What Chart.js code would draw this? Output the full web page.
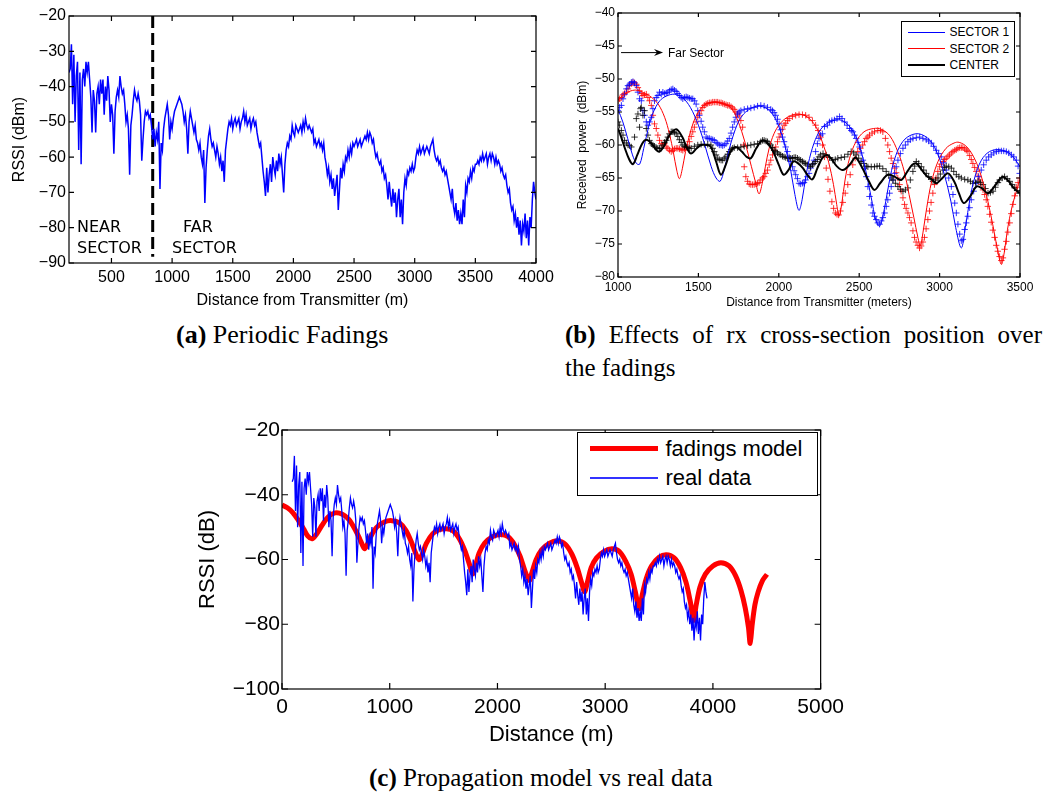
<!DOCTYPE html>
<html>
<head>
<meta charset="utf-8">
<script src="https://cdn.jsdelivr.net/npm/chart.js@4.4.1/dist/chart.umd.min.js"></script>
<style>
  body { margin: 0; background: #fff; }
  #page { position: relative; width: 1046px; height: 796px; overflow: hidden; font-family: "Liberation Sans", Arial, sans-serif; color: #000; }
  canvas { position: absolute; }
  .txt { position: absolute; white-space: nowrap; line-height: 1; }
  .cap { position: absolute; white-space: nowrap; line-height: 1; font-family: "Liberation Serif", "Times New Roman", serif; font-size: 25px; }
  .legend { position: absolute; border: 1.5px solid #000; background: #fff; box-sizing: border-box; }
  .lline { position: absolute; }
</style>
</head>
<body>
<div id="page">
  <canvas id="chartA" width="560" height="320" style="left:0;top:0"></canvas>
  <canvas id="chartB" width="486" height="320" style="left:560px;top:0"></canvas>
  <canvas id="chartC" width="660" height="350" style="left:190px;top:410px"></canvas>

  <div class="txt" style="left:77px;top:217px;font:16px 'DejaVu Sans'">NEAR</div>
  <div class="txt" style="left:77px;top:238px;font:16px 'DejaVu Sans'">SECTOR</div>
  <div class="txt" style="left:183px;top:217px;font:16px 'DejaVu Sans'">FAR</div>
  <div class="txt" style="left:172px;top:238px;font:16px 'DejaVu Sans'">SECTOR</div>
  <div class="txt" style="left:668px;top:47px;font-size:12px">Far Sector</div>

  <div id="legendB"></div>
  <div id="legendC"></div>

  <div class="cap" style="left:176px;top:322px;font-size:26px"><b>(a)</b> Periodic Fadings</div>
  <div class="cap" style="left:565px;top:322px;width:477px;text-align:justify;text-align-last:justify"><b>(b)</b> Effects of rx cross-section position over</div>
  <div class="cap" style="left:565px;top:355px">the fadings</div>
  <div class="cap" style="left:369px;top:765px"><b>(c)</b> Propagation model vs real data</div>
</div>

<script>
// ---- (a) / (c) measured RSSI, one value every 10 m ----
const rssiStep = 10;
const rssiStartA = 150;   // distance of first sample in (a)
const rssiStartC = 95;    // same trace as plotted in (c)
const rssi = [
  -36, -35, -28, -45, -31, -50, -37, -33, -58, -36,
  -62, -38, -35, -40, -33, -36, -33, -38, -43, -53,
  -41, -44, -53, -42, -40, -45, -38, -42, -38, -48,
  -40, -44, -37, -41, -50, -45, -48, -59, -47, -43,
  -41, -43, -37, -40, -42, -41, -45, -50, -48, -52,
  -65, -51, -48, -44, -41, -43, -44, -42, -44, -48,
  -61, -55, -50, -47, -48, -47, -49, -48, -51, -55,
  -52, -57, -53, -55, -50, -69, -56, -58, -52, -49,
  -47, -45, -48, -55, -50, -52, -49, -47, -46, -45,
  -44, -43, -44, -45, -47, -50, -48, -52, -59, -50,
  -47, -49, -51, -53, -51, -55, -56, -58, -56, -60,
  -62, -58, -73, -63, -58, -54, -52, -55, -57, -56,
  -58, -60, -57, -59, -62, -60, -64, -61, -67, -58,
  -55, -52, -50, -51, -49, -52, -50, -49, -51, -50,
  -49, -52, -50, -49, -47, -50, -48, -51, -50, -49,
  -52, -50, -49, -51, -50, -53, -55, -57, -56, -60,
  -64, -67, -71, -63, -70, -65, -62, -67, -60, -63,
  -65, -61, -64, -59, -62, -60, -65, -70, -62, -58,
  -56, -57, -54, -55, -51, -53, -54, -51, -52, -53,
  -52, -51, -53, -50, -52, -49, -51, -52, -51, -52,
  -53, -52, -56, -55, -57, -56, -55, -57, -56, -58,
  -56, -60, -62, -65, -63, -67, -65, -69, -66, -71,
  -68, -65, -75, -69, -63, -66, -62, -64, -60, -61,
  -58, -60, -57, -59, -56, -57, -56, -55, -57, -56,
  -55, -57, -56, -55, -54, -55, -53, -55, -53, -54,
  -56, -55, -58, -60, -59, -61, -62, -61, -64, -63,
  -66, -65, -68, -72, -67, -71, -74, -69, -73, -70,
  -77, -72, -69, -77, -72, -79, -70, -66, -68, -64,
  -65, -63, -64, -62, -64, -63, -60, -58, -59, -57,
  -59, -58, -57, -59, -58, -57, -58, -59, -57, -56,
  -55, -58, -60, -61, -60, -62, -61, -63, -64, -63,
  -65, -64, -66, -68, -70, -72, -69, -74, -76, -73,
  -78, -75, -79, -76, -79, -72, -77, -68, -70, -66,
  -67, -64, -66, -63, -64, -62, -62, -61, -62, -60,
  -61, -59, -61, -60, -59, -62, -60, -59, -61, -59,
  -60, -62, -60, -62, -61, -62, -64, -63, -65, -66,
  -65, -68, -70, -69, -73, -75, -74, -78, -76, -80,
  -77, -82, -78, -85, -79, -81, -76, -83, -78, -85,
  -77, -80, -72, -67, -70, -72
];
const sectorBoundary = 840;
const boundaryTop = -20, boundaryBottom = -88.2;

const xTicksA = [500, 1000, 1500, 2000, 2500, 3000, 3500, 4000];
const yTicksA = [-90, -80, -70, -60, -50, -40, -30, -20];

// ---- (b) sector models (lines) and measurements (+) : [distance, dBm] ----
const sector1Model = [
  [1000,-54.6],[1030,-56.5],[1060,-59],[1090,-61.5],[1115,-62.8],[1135,-62.9],[1160,-60.5],[1190,-57.3],[1220,-55],[1260,-53.3],
  [1300,-52.6],[1350,-52.3],[1400,-52.8],[1450,-54.3],[1500,-57],[1540,-60],[1580,-63.3],[1610,-65],[1635,-65.5],[1660,-63.8],
  [1690,-60.8],[1720,-58.3],[1760,-56],[1810,-54.7],[1880,-54.1],[1950,-55],[2000,-57.2],[2040,-60.3],[2075,-64],[2100,-67.5],
  [2125,-69.9],[2145,-68.3],[2170,-64.5],[2200,-61.2],[2240,-58.5],[2290,-56.9],[2380,-56.2],[2450,-57.5],[2500,-60],[2540,-63.8],
  [2575,-68],[2605,-71.5],[2627,-72.3],[2650,-70.5],[2680,-66.5],[2710,-63],[2750,-60.3],[2800,-58.8],[2870,-58.3],[2940,-59.3],
  [2990,-61.5],[3030,-64.5],[3070,-68.5],[3100,-72.5],[3135,-75.6],[3160,-72.5],[3190,-68],[3220,-64.8],[3260,-62.3],[3310,-61],
  [3370,-60.7],[3430,-61.2],[3470,-62.2],[3500,-63.3]
];
const sector2Model = [
  [1000,-53.2],[1040,-52.3],[1080,-51.8],[1120,-51.7],[1170,-52.2],[1210,-52.8],[1250,-53.8],[1290,-55.8],[1320,-58.3],[1345,-61.2],
  [1365,-63.8],[1382,-65.1],[1400,-63.6],[1420,-61],[1445,-58.5],[1470,-56.5],[1500,-55],[1540,-53.9],[1600,-53.5],[1660,-53.8],
  [1705,-54.4],[1740,-56],[1770,-58],[1800,-60.5],[1830,-63.3],[1855,-65.6],[1877,-67.4],[1897,-65.8],[1917,-63.2],[1940,-60.5],
  [1970,-58.3],[2010,-56.7],[2060,-55.7],[2120,-55.3],[2180,-55.8],[2230,-57.2],[2270,-59.5],[2310,-62.6],[2340,-66],[2360,-69],
  [2375,-70.8],[2392,-68.8],[2412,-65.3],[2440,-62],[2480,-59.5],[2530,-58],[2590,-57.5],[2636,-57.6],[2690,-58.6],[2740,-61],
  [2780,-64],[2810,-67.5],[2840,-71],[2865,-74],[2880,-75.2],[2897,-73.2],[2920,-69.5],[2950,-65.6],[2990,-62.5],[3040,-60.5],
  [3090,-59.7],[3122,-59.6],[3170,-60.3],[3220,-62.2],[3260,-64.8],[3300,-68.5],[3330,-72],[3360,-75.8],[3384,-78.1],[3402,-76.3],
  [3422,-72.8],[3450,-69.4],[3480,-66.8],[3500,-65.2]
];
const centerModel = [
  [1000,-57.5],[1020,-58.8],[1040,-60.3],[1070,-62.2],[1093,-62.9],[1120,-61.5],[1150,-59.8],[1176,-59.2],[1210,-59.8],[1240,-60.8],
  [1258,-61],[1290,-60],[1320,-58.5],[1362,-57.6],[1400,-58.8],[1430,-60.5],[1454,-61.3],[1490,-60.5],[1517,-60],[1550,-60],
  [1578,-60.3],[1610,-62.5],[1640,-64.5],[1670,-63],[1700,-61],[1733,-60.3],[1770,-61],[1800,-61.8],[1826,-62],[1860,-60.5],
  [1899,-59.3],[1940,-60],[1971,-61.3],[2000,-63],[2030,-64.5],[2060,-63.8],[2090,-62.5],[2116,-62.7],[2150,-63.5],[2180,-64.6],
  [2209,-65.2],[2240,-63.5],[2270,-62],[2300,-61.5],[2330,-62.2],[2360,-63.2],[2398,-63.8],[2440,-63],[2470,-62],[2481,-61.9],
  [2520,-63.5],[2560,-65.5],[2595,-66.8],[2630,-65.8],[2678,-64.5],[2720,-64.8],[2761,-65.3],[2800,-64],[2830,-63],[2855,-62.8],
  [2890,-63.8],[2920,-64.7],[2950,-65.2],[2979,-65.8],[3010,-65.2],[3052,-64.3],[3090,-65.5],[3120,-67.3],[3150,-68.8],[3190,-67.8],
  [3228,-66.3],[3260,-66.5],[3301,-67.3],[3340,-66.3],[3370,-65.3],[3394,-64.8],[3430,-65.5],[3460,-66.5],[3498,-67.3]
];
const sector1Meas = [
  [1000,-54.8],[1010,-54.3],[1021,-54],[1031,-53],[1041,-52.3],[1052,-51.5],[1062,-51],[1072,-50.8],[1083,-50.5],[1093,-50.4],
  [1103,-50.6],[1114,-51],[1124,-52],[1134,-53],[1145,-53.3],[1155,-54.8],[1165,-55.5],[1176,-56.5],[1186,-57],[1196,-56.5],
  [1207,-55.8],[1217,-54.5],[1227,-53.3],[1238,-52.8],[1248,-52.5],[1258,-52],[1269,-52.3],[1279,-52],[1290,-52.2],[1300,-52.1],
  [1310,-52],[1320,-51.8],[1331,-51.6],[1341,-51.5],[1351,-51.7],[1362,-51.9],[1372,-52.2],[1382,-52.5],[1393,-52.8],[1403,-53],
  [1413,-52.8],[1424,-52.7],[1434,-52.8],[1444,-52.9],[1455,-53],[1465,-53],[1475,-53.3],[1486,-53.8],[1496,-54.8],[1506,-55.5],
  [1517,-56.4],[1527,-57.3],[1537,-58],[1548,-58.8],[1558,-59],[1568,-59],[1579,-59.1],[1589,-59.2],[1599,-59.3],[1610,-59.6],
  [1620,-59.8],[1630,-60],[1641,-60],[1651,-60.1],[1661,-60],[1672,-59.8],[1682,-59.4],[1692,-59],[1703,-58.2],[1713,-57.3],
  [1723,-56.5],[1733,-55.8],[1744,-55.3],[1754,-55],[1764,-54.8],[1785,-54.6],[1806,-54.5],[1826,-54.4],[1847,-54.3],[1868,-54.1],
  [1888,-54],[1909,-54.1],[1930,-54.3],[1950,-54.6],[1961,-54.8],[1971,-55.1],[1981,-55.5],[1992,-56.1],[2002,-56.8],[2012,-57.7],
  [2023,-58.8],[2033,-59.5],[2043,-60.3],[2054,-61],[2064,-61.8],[2074,-62.5],[2085,-63.3],[2095,-63.9],[2105,-64.5],[2116,-65.1],
  [2126,-65.8],[2136,-65.9],[2147,-65.8],[2157,-65.7],[2167,-65.3],[2178,-64.8],[2188,-64.3],[2198,-63.5],[2209,-62.9],[2219,-62.3],
  [2229,-61],[2240,-59.8],[2250,-59],[2260,-58.5],[2271,-58.3],[2284,-57.2],[2302,-57],[2315,-56.5],[2330,-56.3],[2346,-56.2],
  [2362,-56],[2378,-55.7],[2393,-56],[2409,-56.5],[2425,-57],[2440,-57.5],[2451,-57.8],[2461,-58],[2471,-58.5],[2481,-59],
  [2492,-59.6],[2502,-60.3],[2512,-61.2],[2523,-62.3],[2533,-63.5],[2544,-64.8],[2554,-66.3],[2564,-67.8],[2575,-69.1],[2585,-70.3],
  [2595,-70.8],[2606,-71.3],[2616,-71.8],[2627,-72],[2637,-71.5],[2647,-71],[2658,-70.3],[2668,-69.3],[2678,-68.3],[2689,-67.3],
  [2699,-66.3],[2710,-65.3],[2720,-64.3],[2730,-63.3],[2741,-62.3],[2756,-61.3],[2772,-60.5],[2787,-60],[2803,-59.5],[2818,-59.2],
  [2834,-59],[2855,-58.9],[2876,-58.8],[2896,-59],[2917,-59.2],[2932,-59.4],[2948,-59.7],[2963,-60.2],[2979,-60.8],[2994,-61.3],
  [3010,-61.8],[3025,-62.7],[3041,-63.8],[3057,-65],[3073,-66.3],[3083,-67.5],[3094,-68.8],[3104,-70.3],[3114,-72],[3125,-73.5],
  [3135,-74.5],[3145,-74.3],[3156,-72.8],[3166,-71.8],[3176,-70.8],[3187,-69.5],[3197,-68.3],[3212,-67],[3228,-65.8],[3243,-64.8],
  [3259,-63.8],[3274,-63],[3290,-62.3],[3305,-61.8],[3321,-61.5],[3337,-61.2],[3353,-61],[3368,-60.9],[3384,-60.9],[3399,-60.9],
  [3415,-61],[3430,-61.2],[3446,-61.5],[3461,-61.8],[3477,-62.3],[3488,-63.2],[3498,-64.3]
];
const sector2Meas = [
  [1000,-53.3],[1010,-53],[1021,-52.8],[1031,-52.4],[1041,-52.2],[1052,-52],[1062,-51.5],[1072,-51],[1083,-50.7],[1093,-50.5],
  [1103,-50.6],[1114,-50.8],[1124,-51.3],[1134,-51.8],[1145,-52.2],[1155,-52.5],[1165,-52.4],[1176,-52.3],[1186,-52.8],[1196,-53.3],
  [1207,-54],[1217,-55.5],[1227,-56.8],[1238,-57.5],[1248,-58.5],[1258,-59.3],[1269,-59.8],[1279,-60],[1289,-59.8],[1300,-60.3],
  [1310,-60.5],[1320,-60.8],[1331,-61],[1341,-60.8],[1351,-60.6],[1362,-60.5],[1372,-60.5],[1382,-60.6],[1393,-60.7],[1403,-60.8],
  [1413,-60.6],[1424,-60.4],[1434,-60.3],[1444,-59.5],[1455,-58.7],[1465,-58],[1475,-57.3],[1486,-56.5],[1496,-55.8],[1506,-55.3],
  [1517,-54.8],[1527,-54.3],[1537,-54],[1548,-53.8],[1558,-53.7],[1568,-53.6],[1579,-53.6],[1589,-53.5],[1599,-53.5],[1610,-53.5],
  [1620,-53.5],[1630,-53.6],[1641,-53.6],[1651,-53.7],[1661,-53.8],[1672,-53.9],[1682,-54],[1692,-54],[1703,-54.2],[1713,-54.4],
  [1723,-54.6],[1733,-55],[1744,-55.3],[1754,-55.6],[1764,-56.3],[1775,-57.3],[1780,-60],[1785,-63.3],[1795,-64.8],[1806,-65.5],
  [1816,-65.9],[1826,-66],[1837,-66],[1847,-66],[1857,-65.9],[1868,-65.8],[1878,-65.7],[1888,-65.3],[1899,-65],[1909,-64.8],
  [1919,-64.3],[1930,-63.8],[1940,-63],[1950,-62.3],[1961,-61.5],[1971,-60.8],[1981,-60.3],[1992,-59.5],[2002,-58.8],[2012,-58.3],
  [2023,-57.6],[2033,-57],[2043,-56.7],[2054,-56.3],[2064,-56],[2085,-55.7],[2105,-55.5],[2126,-55.4],[2147,-55.4],[2167,-55.5],
  [2188,-55.8],[2209,-56.3],[2229,-57],[2245,-57.8],[2260,-58.8],[2272,-60],[2284,-61.8],[2295,-63.5],[2306,-65.2],[2318,-67],
  [2330,-68.6],[2341,-69.6],[2352,-70.3],[2362,-70.5],[2372,-70.6],[2383,-70],[2398,-68.7],[2413,-67.3],[2429,-66],[2444,-64.5],
  [2460,-63],[2475,-62],[2491,-61],[2507,-60.5],[2522,-60],[2533,-59.5],[2543,-59],[2554,-58.8],[2564,-58.5],[2580,-58.2],
  [2595,-58],[2616,-57.8],[2632,-57.8],[2647,-58],[2663,-59],[2678,-60],[2689,-61],[2699,-62],[2710,-62.8],[2720,-63.5],
  [2730,-64.2],[2740,-65],[2751,-66],[2761,-67],[2772,-68],[2782,-69],[2792,-69.6],[2803,-70.3],[2813,-71],[2823,-71.8],
  [2834,-73],[2844,-74],[2854,-74.7],[2865,-75.2],[2875,-75.6],[2885,-75.3],[2896,-74.7],[2906,-74],[2916,-72.7],[2927,-71.3],
  [2937,-70],[2947,-68.7],[2958,-67.3],[2968,-66],[2978,-65],[2989,-64],[3000,-63.3],[3010,-62.9],[3021,-62.5],[3031,-62.2],
  [3041,-62],[3052,-61.7],[3062,-61.5],[3073,-61.2],[3083,-61],[3094,-60.8],[3104,-60.7],[3114,-60.5],[3125,-60.4],[3135,-60.4],
  [3145,-60.4],[3156,-60.6],[3166,-60.8],[3176,-61],[3187,-61.6],[3197,-62.2],[3207,-62.8],[3218,-63.4],[3228,-64],[3239,-64.7],
  [3249,-65.3],[3259,-66],[3270,-66.8],[3280,-67.5],[3290,-68.3],[3300,-69.3],[3311,-70.5],[3321,-71.7],[3331,-72.9],[3342,-74],
  [3352,-75.2],[3362,-76.1],[3373,-76.9],[3384,-77.5],[3394,-77.1],[3404,-75.8],[3415,-74.6],[3425,-73.2],[3436,-71.8],[3446,-70.4],
  [3456,-69],[3467,-67.7],[3477,-66.4],[3488,-65.7],[3498,-65]
];
const centerMeas = [
  [1000,-56.5],[1010,-57],[1021,-57.8],[1031,-58.5],[1041,-59.3],[1052,-59.7],[1062,-60],[1072,-60.1],[1083,-60.3],[1103,-58.8],
  [1114,-56],[1124,-55.3],[1134,-57.3],[1140,-54.5],[1145,-54.3],[1155,-55.5],[1165,-54.8],[1176,-57.5],[1186,-58.5],[1196,-59.3],
  [1207,-59.8],[1217,-60],[1227,-60.2],[1238,-60.4],[1248,-60.5],[1258,-60.5],[1269,-60.5],[1279,-60],[1289,-59.6],[1300,-59.3],
  [1310,-58.8],[1320,-58.3],[1331,-58],[1341,-58],[1351,-58.1],[1362,-58.3],[1372,-58.7],[1382,-59.2],[1393,-59.6],[1403,-60],
  [1413,-60.2],[1424,-60.3],[1434,-60.4],[1444,-60.5],[1455,-60.5],[1475,-60.2],[1496,-60],[1517,-59.9],[1537,-59.9],[1558,-59.9],
  [1578,-60],[1589,-60.5],[1599,-61],[1610,-61.5],[1620,-62],[1630,-62.2],[1641,-62.3],[1651,-62.3],[1661,-62],[1671,-61.8],
  [1682,-61.4],[1692,-61],[1703,-60.7],[1713,-60.5],[1723,-60.4],[1744,-60.4],[1764,-60.3],[1785,-60.2],[1806,-60.1],[1826,-60],
  [1847,-59.9],[1868,-59.8],[1888,-59.5],[1899,-59.3],[1909,-59.3],[1920,-59.4],[1930,-59.5],[1940,-59.8],[1950,-60],[1961,-60.4],
  [1971,-60.8],[1981,-61],[1992,-61.2],[2002,-61.4],[2012,-61.5],[2023,-61.7],[2033,-61.8],[2043,-61.9],[2054,-62],[2064,-62],
  [2074,-62],[2085,-62],[2095,-61.9],[2105,-61.9],[2116,-62],[2126,-62.2],[2136,-62.3],[2147,-62.5],[2157,-62.7],[2167,-62.8],
  [2178,-63],[2188,-63.2],[2198,-63.3],[2209,-63],[2219,-62.8],[2229,-62.5],[2240,-62.2],[2250,-61.8],[2260,-61.5],[2275,-61.3],
  [2295,-61.5],[2315,-61.9],[2336,-62.3],[2351,-62.2],[2367,-62],[2388,-61.9],[2409,-61.8],[2430,-61.4],[2450,-61],[2466,-61.2],
  [2481,-61.5],[2497,-62],[2512,-62.5],[2528,-62.8],[2544,-63.2],[2554,-63.3],[2575,-63.3],[2595,-63.3],[2611,-63.2],[2627,-63.2],
  [2647,-63.6],[2668,-64],[2684,-64.6],[2699,-65],[2710,-65.3],[2725,-65.8],[2741,-66.3],[2756,-66.7],[2772,-67],[2787,-66.8],
  [2803,-66.5],[2818,-65.3],[2834,-64],[2845,-63.2],[2855,-62.5],[2870,-62.8],[2886,-63.3],[2901,-63.8],[2917,-64.3],[2932,-64.8],
  [2948,-65.2],[2959,-65.5],[2974,-65.3],[2990,-65],[3005,-64.4],[3021,-63.8],[3031,-63.4],[3041,-63.2],[3057,-63.3],[3073,-63.5],
  [3088,-64],[3104,-64.5],[3120,-64.8],[3135,-65],[3156,-65.2],[3176,-65.3],[3192,-65.5],[3207,-65.8],[3223,-65.7],[3239,-65.5],
  [3254,-65.7],[3270,-66],[3285,-66.6],[3301,-67.3],[3316,-67.2],[3332,-67],[3347,-66.4],[3363,-65.7],[3373,-65.3],[3389,-65],
  [3404,-64.8],[3420,-65.1],[3436,-65.5],[3451,-66],[3467,-66.5],[3482,-66.9],[3498,-67.3]
];
const farSectorArrow = { from: 1019, to: 1280, at: -46 };

const xTicksB = [1000, 1500, 2000, 2500, 3000, 3500];
const yTicksB = [-80, -75, -70, -65, -60, -55, -50, -45, -40];

// ---- (c) fading model : [distance, dB] ----
const fadingModel = [
  [0,-43.2],[50,-44],[100,-45.5],[150,-47.8],[200,-50.5],[240,-52.8],[280,-53.6],[320,-52.2],[370,-49.5],[430,-46.8],
  [494,-45.6],[560,-46],[620,-47.6],[680,-50.8],[720,-53.5],[750,-55.8],[767,-56.7],[790,-55.5],[830,-52.5],[880,-50],
  [950,-48.4],[1019,-48],[1090,-48.7],[1150,-51],[1200,-54.5],[1240,-58],[1272,-60.1],[1300,-58.5],[1340,-55],[1400,-52],
  [1460,-50.8],[1525,-50.5],[1590,-51.2],[1650,-53.8],[1700,-57.5],[1740,-61.5],[1770,-64.4],[1795,-62],[1830,-58],[1880,-55],
  [1950,-53],[2031,-52.3],[2100,-53],[2160,-55.5],[2210,-59],[2255,-63.5],[2296,-66.5],[2320,-64],[2360,-60],[2410,-57],
  [2480,-55],[2556,-54.2],[2630,-55.3],[2690,-58.3],[2740,-62.5],[2780,-67],[2809,-70],[2835,-67],[2870,-62.5],[2920,-59.5],
  [2990,-57.5],[3062,-56.7],[3130,-57.5],[3190,-60.5],[3240,-64.5],[3280,-70],[3315,-75.2],[3340,-71.5],[3380,-66],[3430,-62],
  [3500,-59.3],[3568,-58.5],[3640,-59.5],[3700,-62.5],[3750,-67],[3790,-73],[3821,-78.8],[3845,-74],[3880,-68.5],[3930,-64.5],
  [4000,-62],[4074,-61],[4150,-62],[4210,-65],[4260,-69.5],[4300,-75],[4330,-81],[4346,-85.9],[4365,-80],[4390,-74],
  [4420,-70],[4460,-66.5],[4502,-64.6]
];
const xTicksC = [0, 1000, 2000, 3000, 4000, 5000];
const yTicksC = [-100, -80, -60, -40, -20];

const legendB = [['SECTOR 1', '#0000ff', 1], ['SECTOR 2', '#ff0000', 1], ['CENTER', '#000000', 2]];
const legendC = [['fadings model', '#ff0000', 5], ['real data', '#3333ff', 2]];

// ---------- helpers ----------
const series = (start, step, ys) => ys.map((y, i) => ({ x: start + i * step, y }));
const pairs = arr => arr.map(([x, y]) => ({ x, y }));
const minus = v => String(v).replace('-', '\u2212');
const fixTicks = list => s => { s.ticks = list.map(v => ({ value: v })); };

// MATLAB style box with inward ticks on all four sides
const matlabBox = {
  id: 'matlabBox',
  afterDatasetsDraw(chart, args, opts) {
    const { ctx, chartArea: a, scales: { x, y } } = chart;
    const t = opts.tick || 5;
    ctx.save();
    ctx.strokeStyle = '#000';
    ctx.lineWidth = opts.width || 1.2;
    ctx.strokeRect(a.left, a.top, a.right - a.left, a.bottom - a.top);
    ctx.beginPath();
    x.ticks.forEach(tk => {
      const p = x.getPixelForValue(tk.value);
      ctx.moveTo(p, a.bottom); ctx.lineTo(p, a.bottom - t);
      ctx.moveTo(p, a.top); ctx.lineTo(p, a.top + t);
    });
    y.ticks.forEach(tk => {
      const p = y.getPixelForValue(tk.value);
      ctx.moveTo(a.left, p); ctx.lineTo(a.left + t, p);
      ctx.moveTo(a.right, p); ctx.lineTo(a.right - t, p);
    });
    ctx.stroke();
    if (opts.arrow) {
      const ar = opts.arrow;
      const x0 = x.getPixelForValue(ar.from), x1 = x.getPixelForValue(ar.to), py = y.getPixelForValue(ar.at);
      ctx.lineWidth = 1;
      ctx.beginPath(); ctx.moveTo(x0, py); ctx.lineTo(x1 - 6, py); ctx.stroke();
      ctx.fillStyle = '#000';
      ctx.beginPath(); ctx.moveTo(x1, py); ctx.lineTo(x1 - 9, py - 3.5); ctx.lineTo(x1 - 6, py); ctx.lineTo(x1 - 9, py + 3.5); ctx.closePath(); ctx.fill();
    }
    ctx.restore();
  }
};
Chart.register(matlabBox);
Chart.defaults.font.family = '"Liberation Sans", Arial, sans-serif';
Chart.defaults.color = '#000';

function axes(cfg) {
  return {
    x: {
      type: 'linear', min: cfg.xmin, max: cfg.xmax,
      grid: { display: false, drawTicks: false }, border: { display: false },
      afterBuildTicks: fixTicks(cfg.xticks),
      afterFit: s => { s.height = cfg.xh; },
      ticks: { font: { size: cfg.tickSize }, padding: cfg.xpad, maxRotation: 0, callback: minus },
      title: { display: true, text: cfg.xtitle, font: { size: cfg.titleSize }, padding: { top: 0, bottom: cfg.xtpad } }
    },
    y: {
      type: 'linear', min: cfg.ymin, max: cfg.ymax,
      grid: { display: false, drawTicks: false }, border: { display: false },
      afterBuildTicks: fixTicks(cfg.yticks),
      afterFit: s => { s.width = cfg.yw; },
      ticks: { font: { size: cfg.tickSize }, padding: cfg.ypad, callback: minus },
      title: { display: true, text: cfg.ytitle, font: { size: cfg.titleSize }, padding: { top: cfg.ytpad, bottom: 0 } }
    }
  };
}
const base = (padding, box, scales) => ({
  responsive: false, animation: false, devicePixelRatio: 1,
  layout: { padding },
  plugins: { legend: { display: false }, tooltip: { enabled: false }, matlabBox: box },
  elements: { point: { radius: 0 }, line: { tension: 0 } },
  scales
});

// ---------- (a) ----------
new Chart(document.getElementById('chartA'), {
  type: 'line',
  data: { datasets: [
    { data: series(rssiStartA, rssiStep, rssi), borderColor: '#0000ff', borderWidth: 1.5 },
    { data: [{ x: sectorBoundary, y: boundaryTop }, { x: sectorBoundary, y: boundaryBottom }],
      borderColor: '#000', borderWidth: 3, borderDash: [12, 5] }
  ] },
  options: base({ left: 0, top: 16, right: 24, bottom: 0 }, { tick: 5 }, axes({
    xmin: 150, xmax: 4000, ymin: -90, ymax: -20, xticks: xTicksA, yticks: yTicksA,
    xh: 57, yw: 69, tickSize: 16, titleSize: 16, xpad: 5, ypad: 3, xtpad: 10, ytpad: 10,
    xtitle: 'Distance from Transmitter (m)', ytitle: 'RSSI (dBm)'
  }))
});

// ---------- (b) ----------
const cross = (d, c) => ({ data: pairs(d), showLine: false, pointStyle: 'cross', pointRadius: 3.2,
  pointBorderColor: c, pointBorderWidth: 1, borderColor: c });
new Chart(document.getElementById('chartB'), {
  type: 'line',
  data: { datasets: [
    { data: pairs(centerModel), borderColor: '#000', borderWidth: 2, tension: 0.35 },
    { data: pairs(sector1Model), borderColor: '#0000ff', borderWidth: 1, tension: 0.35 },
    { data: pairs(sector2Model), borderColor: '#ff0000', borderWidth: 1, tension: 0.35 },
    cross(centerMeas, 'rgba(0,0,0,0.8)'),
    cross(sector1Meas, 'rgba(0,0,255,0.8)'),
    cross(sector2Meas, 'rgba(255,0,0,0.8)')
  ] },
  options: base({ left: 0, top: 13, right: 26, bottom: 0 }, { tick: 4, arrow: farSectorArrow }, axes({
    xmin: 1000, xmax: 3500, ymin: -80, ymax: -40, xticks: xTicksB, yticks: yTicksB,
    xh: 43, yw: 58, tickSize: 12, titleSize: 12, xpad: 3, ypad: 3, xtpad: 10, ytpad: 15,
    xtitle: 'Distance from Transmitter (meters)', ytitle: 'Received  power  (dBm)'
  }))
});

// ---------- (c) ----------
new Chart(document.getElementById('chartC'), {
  type: 'line',
  data: { datasets: [
    { data: series(rssiStartC, rssiStep, rssi), borderColor: '#0000ff', borderWidth: 1.3 },
    { data: pairs(fadingModel), borderColor: '#ff0000', borderWidth: 5, tension: 0.3 }
  ] },
  options: base({ left: 0, top: 20, right: 27, bottom: 0 }, { tick: 6 }, axes({
    xmin: 0, xmax: 5000, ymin: -100, ymax: -20, xticks: xTicksC, yticks: yTicksC,
    xh: 71, yw: 92, tickSize: 21, titleSize: 22, xpad: 6, ypad: 2, xtpad: 12, ytpad: 5,
    xtitle: 'Distance (m)', ytitle: 'RSSI (dB)'
  }))
});

// ---------- legends ----------
function buildLegend(el, items, box, lineX, lineW, textX, rowY, font) {
  const lg = document.createElement('div');
  lg.className = 'legend';
  Object.assign(lg.style, { left: box[0] + 'px', top: box[1] + 'px', width: box[2] + 'px', height: box[3] + 'px' });
  el.appendChild(lg);
  items.forEach(([label, color, w], i) => {
    const ln = document.createElement('div');
    ln.className = 'lline';
    Object.assign(ln.style, { left: (lineX - box[0] - 1.5) + 'px', top: Math.round(rowY[i] - w / 2 - box[1] - 1.5) + 'px',
      width: lineW + 'px', height: w + 'px', backgroundColor: color });
    lg.appendChild(ln);
    const tx = document.createElement('div');
    tx.className = 'txt';
    tx.textContent = label;
    Object.assign(tx.style, { left: (textX - box[0] - 1.5) + 'px', top: (rowY[i] - font * 0.49 - box[1] - 1.5) + 'px', fontSize: font + 'px' });
    lg.appendChild(tx);
  });
}
buildLegend(document.getElementById('legendB'), legendB, [901, 21, 114, 56], 908, 37, 950, [32.5, 49.3, 65.5], 12);
buildLegend(document.getElementById('legendC'), legendC, [577, 432, 241, 64], 590, 68, 666, [449, 478.5], 22);
</script>
</body>
</html>
